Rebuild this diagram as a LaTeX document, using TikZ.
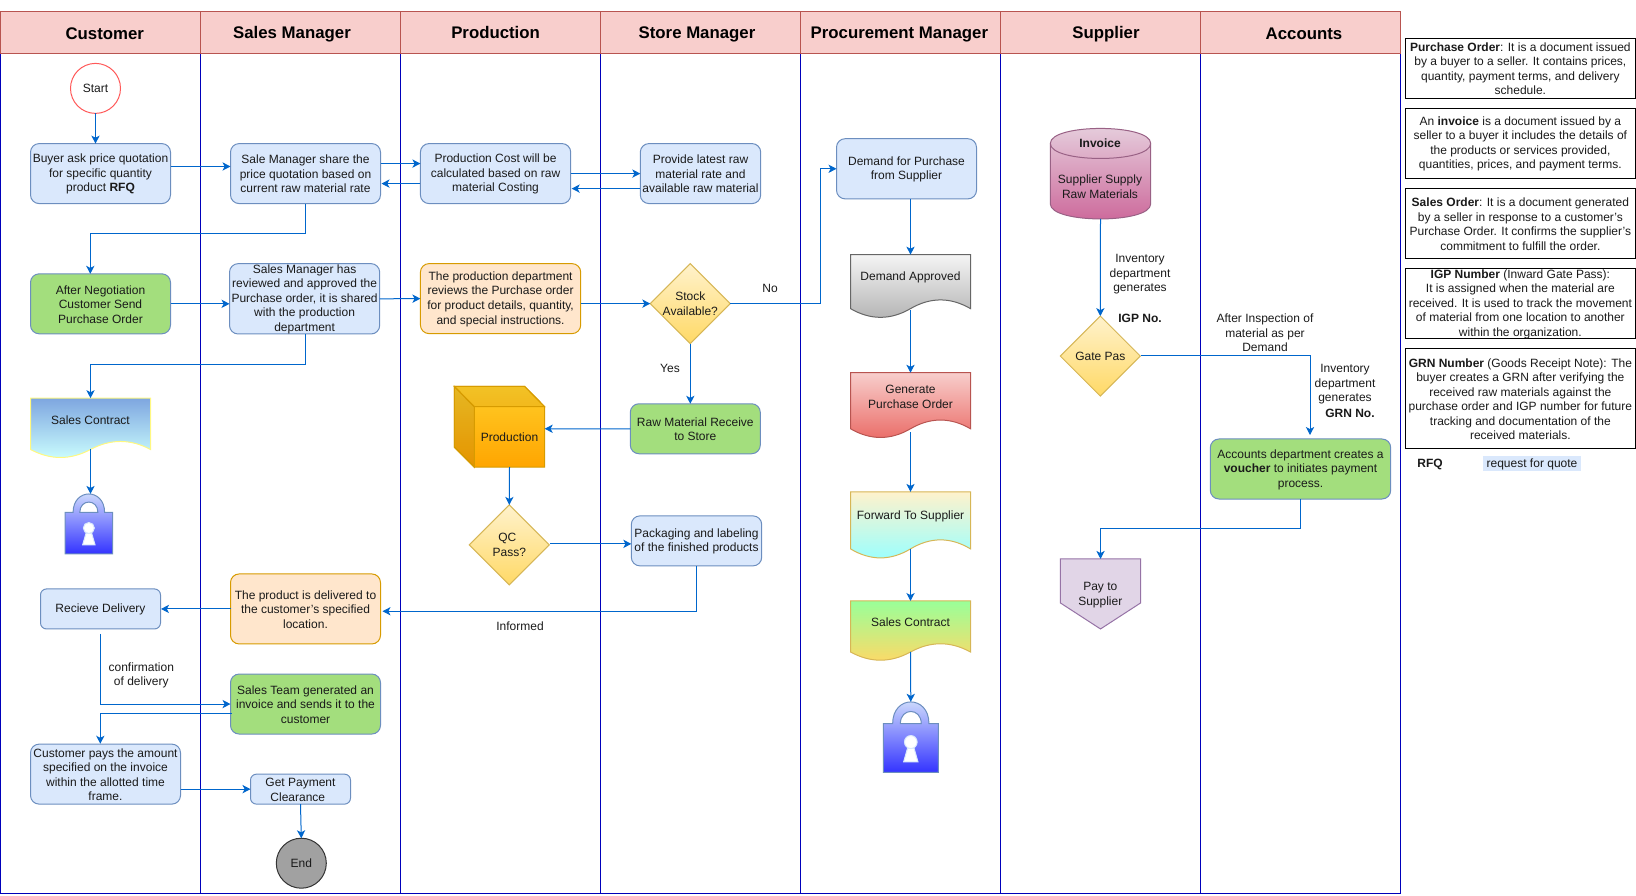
\documentclass[tikz,border=0pt]{standalone}
\usepackage{fontspec}
\setmainfont{Liberation Sans}
\usetikzlibrary{arrows.meta,calc,shapes.geometric}
\definecolor{lane}{HTML}{0000BB}
\definecolor{flow}{HTML}{0066CC}
\definecolor{hfill}{HTML}{F8CECC}
\definecolor{hline}{HTML}{B85450}
\definecolor{bfill}{HTML}{DAE8FC}
\definecolor{bline}{HTML}{6C8EBF}
\definecolor{gfill}{HTML}{A3DE7D}
\definecolor{ofill}{HTML}{FFE6CC}
\definecolor{oline}{HTML}{D79B00}
\definecolor{yfill}{HTML}{FFF2CC}
\definecolor{yfill2}{HTML}{FFD966}
\definecolor{yline}{HTML}{D6B656}
\definecolor{txt}{HTML}{1A1A1A}
\definecolor{docA}{HTML}{7EA6E0}
\definecolor{docB}{HTML}{CCFFFF}
\definecolor{docC}{HTML}{EA6B66}
\definecolor{docD}{HTML}{99FFFF}
\definecolor{docE}{HTML}{99FF99}
\definecolor{cylA}{HTML}{E6D0DE}
\definecolor{cylB}{HTML}{CC6699}
\definecolor{cylL}{HTML}{996185}
\definecolor{lockB}{HTML}{3333FF}
\definecolor{cubeA}{HTML}{FFCD28}
\definecolor{cubeB}{HTML}{FFA500}
\definecolor{payF}{HTML}{E1D5E7}
\definecolor{payL}{HTML}{9673A6}
\tikzset{
  x=0.75pt,y=-0.7508pt,
  every node/.style={font=\fontsize{9}{10.9}\selectfont,text=txt,inner sep=0pt,outer sep=0pt,align=center},
  thin px/.style={line width=0.75pt},
  lanebox/.style={rectangle,draw=lane,thin px},
  headbox/.style={rectangle,draw=hline,fill=hfill,thin px},
  headtext/.style={font=\fontsize{12.6}{15}\selectfont\bfseries,text=black},
  bluebox/.style={rectangle,rounded corners=6.5pt,draw=bline,fill=bfill,thin px},
  smallblue/.style={bluebox,rounded corners=4.5pt},
  greenbox/.style={rectangle,rounded corners=6.5pt,draw=bline,fill=gfill,thin px},
  orangebox/.style={rectangle,rounded corners=6.5pt,draw=oline,fill=ofill,thin px},
  notebox/.style={rectangle,draw=black,fill=white,thin px},
  ghost/.style={rectangle},
  startnode/.style={circle,draw=red!65!white,fill=white,thin px,minimum size=37.5pt},
  endnode/.style={circle,draw=black!80,fill=black!37,thin px,minimum size=37.5pt},
  choice/.style={diamond,aspect=1,inner sep=-5pt,minimum size=60pt,draw=yline,top color=yfill,bottom color=yfill2,thin px},
  conn/.style={draw=flow,thin px,-{Stealth[length=6pt,width=6.2pt,inset=1.6pt]}},
  docgrey/.style={draw=black!60,top color=black!4,bottom color=black!30,thin px},
  docblue/.style={draw=yellow!50!white,top color=docA,bottom color=docB,thin px},
  docred/.style={draw=hline,top color=hfill,bottom color=docC,thin px},
  docaqua/.style={draw=yline,top color=yfill,bottom color=docD,thin px},
  docgreen/.style={draw=yline,top color=docE,bottom color=yfill2,thin px},
}
% box by its corners: name, x1, y1, x2, y2, style, text
\newcommand\bx[7]{\node (#1) [#6,minimum width={(#4-#2)*0.75pt},minimum height={(#5-#3)*0.75pt}] at ({(#2+#4)/2},{(#3+#5)/2}) {\rule{0pt}{7.3pt}#7};}
% wavy document: name, x1, y1, x2, base, amp, style, text
\newcommand\docsh[8]{%
  \path[#7] (#2,#3) -- (#4,#3) -- (#4,#5)
    .. controls ({#4-(#4-#2)/6},{#5-4*#6/3}) and ({#4-(#4-#2)/3},{#5-4*#6/3}) .. ({(#2+#4)/2},#5)
    .. controls ({#2+(#4-#2)/3},{#5+4*#6/3}) and ({#2+(#4-#2)/6},{#5+4*#6/3}) .. (#2,#5) -- cycle;
  \bx{#1}{#2}{#3}{#4}{#5}{ghost}{}
  \node (#1-t) at ({(#2+#4)/2},{(#3+#5)/2-3.8}) {#8};}
% padlock: name, x1, y1, x2, y2
\newcommand\lockshape[5]{%
  \bx{#1}{#2}{#3}{#4}{#5}{ghost}{}
  \begin{scope}[shift={(#2,#3)},x={({(#4-#2)*0.75pt},0pt)},y={(0pt,{-(#5-#3)*0.75pt})}]
    \path[draw=bline,top color=bfill,bottom color=lockB,thin px,even odd rule]
      (0,.31) -- (0,1) -- (1,1) -- (1,.31) -- (.83,.31)
      .. controls (.83,-.1) and (.17,-.1) .. (.17,.31) -- cycle
      (.31,.31) .. controls (.31,.08) and (.69,.08) .. (.69,.31) -- cycle;
    \path[draw=bfill,fill=white,thin px] (.44,.66) -- (.37,.85) -- (.63,.85) -- (.56,.66) -- cycle;
    \path[draw=bfill,fill=white,thin px] (.5,.57) ellipse [x radius=.115,y radius=.092];
  \end{scope}}
\begin{document}
\begin{tikzpicture}
\useasboundingbox (0,0) rectangle (1636,895.04);
% lanes
\bx{lane1}{0.5}{53.3}{200.5}{893.3}{lanebox}{}
\bx{lane2}{200.5}{53.3}{400.5}{893.3}{lanebox}{}
\bx{lane3}{400.5}{53.3}{600.5}{893.3}{lanebox}{}
\bx{lane4}{600.5}{53.3}{800.4}{893.3}{lanebox}{}
\bx{lane5}{800.4}{53.3}{1000.4}{893.3}{lanebox}{}
\bx{lane6}{1000.4}{53.3}{1200.4}{893.3}{lanebox}{}
\bx{lane7}{1200.4}{53.3}{1400.5}{893.3}{lanebox}{}
% headers
\bx{head1}{0.5}{11.7}{200.5}{53.3}{headbox}{}
\bx{head2}{200.5}{11.7}{400.5}{53.3}{headbox}{}
\bx{head3}{400.5}{11.7}{600.5}{53.3}{headbox}{}
\bx{head4}{600.5}{11.7}{800.4}{53.3}{headbox}{}
\bx{head5}{800.4}{11.7}{1000.4}{53.3}{headbox}{}
\bx{head6}{1000.4}{11.7}{1200.4}{53.3}{headbox}{}
\bx{head7}{1200.4}{11.7}{1400.5}{53.3}{headbox}{}
\node (h1t) [headtext] at (104.8,33.6) {Customer};
\node (h2t) [headtext] at (292,34.4) {Sales Manager};
\node (h3t) [headtext] at (495.6,32) {Production};
\node (h4t) [headtext] at (697,34.4) {Store Manager};
\node (h5t) [headtext] at (899.4,34.4) {Procurement Manager};
\node (h6t) [headtext] at (1106,34.4) {Supplier};
\node (h7t) [headtext] at (1304,33.6) {Accounts};
% customer lane
\node (start) [startnode] at (95.5,88.3) {Start};
\bx{buyer}{30.5}{143.4}{170.5}{203.4}{bluebox}{Buyer ask price quotation\\for specific quantity\\product \textbf{RFQ}}
\bx{neg}{30.5}{273.5}{170.5}{333.5}{greenbox}{After Negotiation\\Customer Send\\Purchase Order}
\docsh{contract1}{30.5}{397.7}{150.5}{449}{8}{docblue}{Sales Contract}
\lockshape{lock1}{65}{493.3}{112.7}{553.3}
\bx{recv}{40.5}{588.3}{160.5}{628.3}{smallblue}{Recieve Delivery}
\bx{cust}{30.5}{743.3}{180.5}{803.3}{bluebox}{Customer pays the amount\\specified on the invoice\\within the allotted time\\frame.}
% sales manager lane
\bx{sale}{230.5}{143.4}{380.5}{203.4}{bluebox}{Sale Manager share the\\price quotation based on\\current raw material rate}
\bx{mgr}{229.5}{263.5}{379.7}{333.5}{bluebox}{Sales Manager has\\reviewed and approved the\\Purchase order, it is shared\\with the production\\department}
\bx{deliv}{230.5}{573.3}{380.5}{643.3}{orangebox}{The product is delivered to\\the customer's specified\\location.}
\bx{team}{230.5}{673.3}{380.5}{733.3}{greenbox}{Sales Team generated an\\invoice and sends it to the\\customer}
\bx{getpay}{250.5}{773.3}{350.5}{803.3}{smallblue}{Get Payment\\Clearance\hspace*{4pt}}
\node (finish) [endnode] at (301.3,862.3) {End};
% production lane
\bx{pc}{420.4}{143.4}{570.7}{203.4}{bluebox}{Production Cost will be\\calculated based on raw\\material Costing}
\bx{pd}{420.4}{263.3}{580.7}{333.3}{orangebox}{The production department\\reviews the Purchase order\\for product details, quantity,\\and special instructions.}
\path[draw=oline,top color=cubeA,bottom color=cubeB,thin px] (454.3,386) -- (524.7,386) -- (544.7,406.3) -- (544.7,466.7) -- (474.3,466.7) -- (454.3,446.7) -- cycle;
\path[fill=black,fill opacity=.1,draw=oline,thin px] (454.3,386) -- (474.3,406.3) -- (474.3,466.7) -- (454.3,446.7) -- cycle;
\path[fill=black,fill opacity=.05,draw=oline,thin px] (454.3,386) -- (524.7,386) -- (544.7,406.3) -- (474.3,406.3) -- cycle;
\bx{prod}{474.3}{406.3}{544.7}{466.7}{ghost}{Production}
\node (qc) [choice] at (509.3,544.3) {QC\hspace*{3pt}\\Pass?};
% store manager lane
\bx{prov}{640.3}{143.4}{760.7}{203.4}{bluebox}{Provide latest raw\\material rate and\\available raw material}
\node (stock) [choice] at (690.3,303.3) {Stock\\Available?};
\bx{raw}{630.3}{403.3}{760.3}{453.3}{greenbox}{Raw Material Receive\\to Store}
\bx{pack}{631.3}{515.3}{761.7}{565.3}{bluebox}{Packaging and labeling\\of the finished products}
% procurement lane
\bx{demand}{836.5}{138.5}{976.5}{198.7}{bluebox}{Demand for Purchase\\from Supplier}
\docsh{approved}{850.5}{254.3}{970.5}{308.3}{8.7}{docgrey}{Demand Approved}
\docsh{genpo}{850.5}{372.3}{970.5}{428.3}{8.7}{docred}{Generate\\Purchase Order}
\docsh{forward}{850.5}{491.3}{970.5}{548.3}{9}{docaqua}{Forward To Supplier}
\docsh{contract2}{850.5}{600.3}{970.5}{651.3}{8.2}{docgreen}{Sales Contract}
\lockshape{lock2}{883.3}{701}{938.3}{771.7}
% supplier lane
\path[draw=cylL,top color=cylA,bottom color=cylB,thin px] (1050.3,143.3) .. controls (1050.3,123.3) and (1150.7,123.3) .. (1150.7,143.3) -- (1150.7,203.7) .. controls (1150.7,223.7) and (1050.3,223.7) .. (1050.3,203.7) -- cycle;
\path[draw=cylL,thin px] (1050.3,143.3) .. controls (1050.3,163.3) and (1150.7,163.3) .. (1150.7,143.3);
\bx{cyl}{1050.3}{128.3}{1150.7}{218.7}{ghost}{}
\node (cyl-a) at (1100,143.4) {\textbf{Invoice}};
\node (cyl-b) at (1100,186.7) {Supplier Supply\\Raw Materials};
\node (gate) [choice] at (1100.3,355.7) {Gate Pas};
\path[draw=payL,fill=payF,thin px] (1060.4,558.3) -- (1140.6,558.3) -- (1140.6,602.3) -- (1100.5,628.3) -- (1060.4,602.3) -- cycle;
\bx{paysup}{1060.4}{558.3}{1140.6}{628.3}{ghost}{}
\node (paysup-t) at (1100.3,594.5) {Pay to\\Supplier};
% accounts lane
\bx{acc}{1210.3}{438.5}{1390.7}{498.5}{greenbox}{Accounts department creates a\\\textbf{voucher} to initiates payment\\process.}
% notes
\bx{note1}{1405.3}{38.3}{1635.4}{98.3}{notebox}{\textbf{Purchase Order}: It is a document issued\\by a buyer to a seller. It contains prices,\\quantity, payment terms, and delivery\\schedule.}
\bx{note2}{1405.3}{108.3}{1635.4}{178.3}{notebox}{An \textbf{invoice} is a document issued by a\\seller to a buyer it includes the details of\\the products or services provided,\\quantities, prices, and payment terms.}
\bx{note3}{1405.3}{188.3}{1635.4}{258.3}{notebox}{\textbf{Sales Order}: It is a document generated\\by a seller in response to a customer's\\Purchase Order. It confirms the supplier's\\commitment to fulfill the order.}
\bx{note4}{1405.3}{268.3}{1635.4}{338.3}{notebox}{\textbf{IGP Number} (Inward Gate Pass):\\It is assigned when the material are\\received. It is used to track the movement\\of material from one location to another\\within the organization.}
\bx{note5}{1405.3}{348.3}{1635.4}{448.3}{notebox}{\textbf{GRN Number} (Goods Receipt Note): The\\buyer creates a GRN after verifying the\\received raw materials against the\\purchase order and IGP number for future\\tracking and documentation of the\\received materials.}
\node (rfq) at (1430,463.8) {\textbf{RFQ}};
\bx{rfqdef}{1482.7}{456}{1581.3}{470.7}{rectangle,fill=bfill}{request for quote}
% free labels
\node (no) at (770,287.8) {No};
\node (yes) at (670,368.2) {Yes};
\node (informed) at (520,625.2) {Informed};
\node (confirm) at (141.3,674.8) {confirmation\\of delivery};
\node (inv1) at (1140,274.2) {Inventory\\department\\generates};
\node (igp) at (1140,318.4) {\textbf{IGP No.}};
\node (inspect) at (1265,332.8) {After Inspection of\\material as per\\Demand};
\node (inv2) at (1345,384) {Inventory\\department\\generates};
\node (grn) at (1350,413.4) {\textbf{GRN No.}};
% connectors
\draw[conn] (start.south) -- (start.south |- buyer.north);
\draw[conn] ($(buyer.east)+(0,-7.1)$) -- ($(sale.west)+(0,-7.1)$);
\draw[conn] ($(sale.east)+(0,-10)$) -- ($(pc.west)+(0,-10)$);
\draw[conn] ($(pc.west)+(0,10)$) -- ($(sale.east)+(1,10)$);
\draw[conn] (pc.east) -- (prov.west);
\draw[conn] ($(prov.west)+(0,15)$) -- ($(pc.east)+(1,15)$);
\draw[conn] (sale.south) -- ++(0,29.9) -| ($(neg.north)+(-10.2,0)$);
\draw[conn] (neg.east) -- (neg.east -| mgr.west);
\draw[conn] (mgr.east) -- (pd.west);
\draw[conn] ($(mgr.south)+(1,0)$) -- ++(0,30.5) -| (contract1.north);
\draw[conn] ($(pd.east)+(0,5)$) -- (stock.west);
\draw[conn] (stock.east) -| ($(demand.west)+(-16.2,0)$) -- (demand.west);
\draw[conn] (stock.south) -- (stock.south |- raw.north);
\draw[conn] (raw.west) -- ($(prod.east)+(0,-8.2)$);
\draw[conn] (prod.south) -- (qc.north);
\draw[conn] ($(qc.east)+(1,-1)$) -- ($(pack.west)+(0,3)$);
\draw[conn] (pack.south) |- ($(deliv.east)+(2,2.3)$);
\draw[conn] (deliv.west) -- ($(recv.east)+(0.5,0)$);
\draw[conn] ($(recv.south)+(-0.2,5)$) |- (team.west);
\draw[conn] ($(team.west)+(1,9)$) -| ($(cust.north)+(-5.2,-0.4)$);
\draw[conn] ($(cust.east)+(0,15)$) -- (getpay.west);
\draw[conn] (getpay.south) -- (finish.north);
\draw[conn] (contract1.south) -- (lock1.north -| contract1.south);
\draw[conn] (demand.south -| approved.north) -- (approved.north);
\draw[conn] (approved.south) ++(0,1.7) -- (genpo.north);
\draw[conn] (genpo.south) ++(0,3.4) -- (forward.north);
\draw[conn] (forward.south) -- (contract2.north);
\draw[conn] (contract2.south) -- (lock2.north);
\draw[conn] (cyl.south) -- (gate.north);
\draw[conn] ($(gate.east)+(1,-0.4)$) -| ($(acc.north)+(9.5,-4)$);
\draw[conn] (acc.south) -- ++(0,29.8) -| (paysup.north);
\end{tikzpicture}
\end{document}
